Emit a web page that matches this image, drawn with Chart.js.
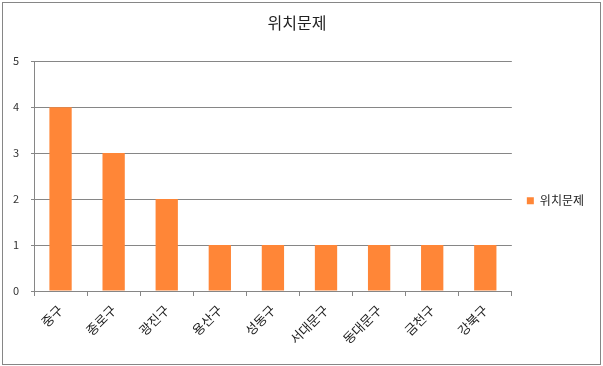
<!DOCTYPE html>
<html><head><meta charset="utf-8">
<script src="https://cdn.jsdelivr.net/npm/chart.js@4"></script>
<style>html,body{margin:0;padding:0;background:#fff}canvas{display:block}</style>
</head><body>
<canvas id="c" width="603" height="366"></canvas>
<script>
const categories = ['중구','종로구','광진구','용산구','성동구','서대문구','동대문구','금천구','강북구'];
const seriesName = '위치문제';
const values = [4,3,2,1,1,1,1,1,1];
const yTicks = [0,1,2,3,4,5];

const FONT = '"Noto Sans CJK KR", "Noto Sans", sans-serif';
const GRID = '#868686';

const borderPlugin = {
  id: 'outerBorder',
  beforeDraw(chart) {
    const ctx = chart.ctx;
    ctx.save();
    ctx.fillStyle = '#fff';
    ctx.fillRect(0,0,chart.width,chart.height);
    ctx.strokeStyle = GRID;
    ctx.lineWidth = 1;
    ctx.strokeRect(2.5, 2.5, chart.width - 5, chart.height - 4);
    ctx.restore();
  }
};

new Chart(document.getElementById('c'), {
  type: 'bar',
  data: {
    labels: categories,
    datasets: [{
      label: seriesName,
      data: values,
      backgroundColor: '#FF8637',
      borderWidth: 0,
      barPercentage: 0.42,
      categoryPercentage: 1.0
    }]
  },
  options: {
    responsive: false,
    animation: false,
    devicePixelRatio: 1,
    layout: { padding: { left: 0, right: 9, top: 0, bottom: 15 } },
    plugins: {
      title: {
        display: true,
        text: seriesName,
        color: '#222',
        font: { family: FONT, size: 16, weight: 'normal' },
        padding: { top: 13, bottom: 29 }
      },
      legend: {
        position: 'right',
        title: { display: true, text: ' ', padding: { top: 0, bottom: 36 }, font: { family: FONT, size: 12 } },
        labels: {
          boxWidth: 7, boxHeight: 7,
          padding: 15,
          color: '#222',
          font: { family: FONT, size: 12 }
        }
      },
      tooltip: { enabled: false }
    },
    scales: {
      x: {
        afterFit(s) { s.height = 60; },
        grid: { drawOnChartArea: false, drawTicks: true, tickLength: 5, color: GRID, offset: true },
        border: { display: true, color: GRID },
        ticks: {
          minRotation: 45, maxRotation: 45, autoSkip: false,
          color: '#222', padding: 6,
          font: { family: FONT, size: 13 }
        }
      },
      y: {
        min: 0, max: 5,
        afterFit(s) { s.width = 34; },
        afterBuildTicks(s) { s.ticks = yTicks.map(v => ({ value: v })); },
        grid: { color: GRID, drawTicks: true, tickLength: 3 },
        border: { display: true, color: GRID },
        ticks: {
          stepSize: 1, color: '#333', padding: 12,
          font: { family: FONT, size: 11 }
        }
      }
    }
  },
  plugins: [borderPlugin]
});
</script>
</body></html>
